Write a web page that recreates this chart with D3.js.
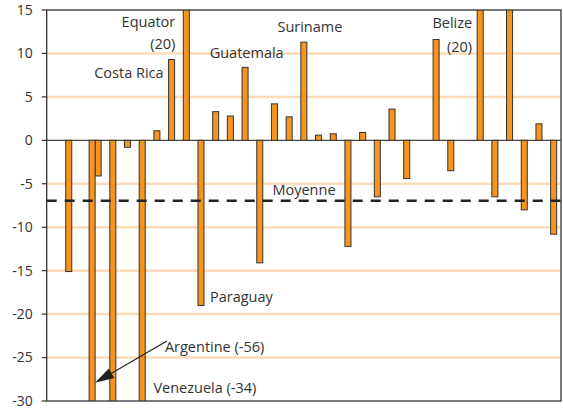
<!DOCTYPE html>
<html><head><meta charset="utf-8">
<script src="https://cdn.jsdelivr.net/npm/d3@7"></script>
<style>
html,body{margin:0;padding:0;background:#fff;}
svg{display:block;font-family:"Open Sans",sans-serif;}
</style></head>
<body><svg id="chart" width="563" height="409"></svg>
<script>
// ---- data ----
const categories = d3.range(1, 36).map(String);
const values = [0, -15.1, null, -4.1, -30.4, -0.8, -34, 1.1, 9.3, 20, -19, 3.3, 2.8, 8.4, -14.1, 4.2, 2.7, 11.3, 0.6, 0.75, -12.2, 0.9, -6.5, 3.6, -4.4, null, 11.6, -3.5, null, 20, -6.5, 17, -8.0, 1.9, -10.8];
const secondValues = [null, null, null, -56, null, null, null, null, null, null, null, null, null, null, null, null, null, null, null, null, null, null, null, null, null, null, null, null, null, null, null, null, null, null, null];
const meanValue = -6.95;
const yTicks = [15, 10, 5, 0, -5, -10, -15, -20, -25, -30];
const gridTicks = [10, 5, -5, -10, -15, -20, -25];

const svg = d3.select("#chart");
const L = 46.7, R = 561, T = 10, B = 401;
const x = d3.scaleBand().domain(categories).range([L, R]).paddingInner(0.59).paddingOuter(0.295);
const y = d3.scaleLinear().domain([-30, 15]).range([B, T]);
const bw = x.bandwidth();
const ink = "#333";

// grid
svg.append("g").selectAll("line").data(gridTicks).join("line")
  .attr("x1", L).attr("x2", R).attr("y1", d => y(d)).attr("y2", d => y(d))
  .attr("stroke", "#fcdcbc").attr("stroke-width", 2.5);

// zero line
svg.append("line").attr("x1", L).attr("x2", R).attr("y1", y(0)).attr("y2", y(0))
  .attr("stroke", "#444").attr("stroke-width", 1.2);

// clip
svg.append("clipPath").attr("id", "clip").append("rect")
  .attr("x", L).attr("y", T).attr("width", R - L).attr("height", B - T);

const gBars = svg.append("g").attr("clip-path", "url(#clip)");
const main = values.map((v, i) => ({c: categories[i], v})).filter(d => d.v !== null);
gBars.selectAll("rect.m").data(main).join("rect").attr("class", "m")
  .attr("x", d => x(d.c)).attr("width", bw)
  .attr("y", d => y(Math.max(0, d.v))).attr("height", d => Math.abs(y(d.v) - y(0)))
  .attr("fill", "#f7941e").attr("stroke", ink).attr("stroke-width", 1);
const second = secondValues.map((v, i) => ({c: categories[i], v})).filter(d => d.v !== null);
gBars.selectAll("rect.s").data(second).join("rect").attr("class", "s")
  .attr("x", d => x(d.c) - bw).attr("width", bw)
  .attr("y", d => y(Math.max(0, d.v))).attr("height", d => Math.abs(y(d.v) - y(0)))
  .attr("fill", "#f7941e").attr("stroke", ink).attr("stroke-width", 1);

// mean line
svg.append("line").attr("x1", L).attr("x2", R).attr("y1", y(meanValue)).attr("y2", y(meanValue))
  .attr("stroke", "#222").attr("stroke-width", 2.5).attr("stroke-dasharray", "10,8");

// frame
svg.append("rect").attr("x", L).attr("y", T).attr("width", R - L).attr("height", B - T)
  .attr("fill", "none").attr("stroke", ink).attr("stroke-width", 1.3);

// y axis ticks and labels
const gy = svg.append("g");
gy.selectAll("line").data(yTicks).join("line")
  .attr("x1", L - 5).attr("x2", L).attr("y1", d => y(d)).attr("y2", d => y(d))
  .attr("stroke", ink).attr("stroke-width", 1.2);
gy.selectAll("text").data(yTicks).join("text")
  .attr("x", L - 14).attr("y", d => y(d)).attr("dy", "0.35em")
  .attr("text-anchor", "end").attr("font-size", 14).attr("fill", ink)
  .text(d => d);

// annotations
const fs = 14.5;
function label(txt, xx, yy, anchor) {
  svg.append("text").attr("x", xx).attr("y", yy).attr("text-anchor", anchor || "start")
    .attr("font-size", fs).attr("fill", ink).text(txt);
}
label("Equator", x("10") - 8, y(13.1), "end");
label("(20)", x("10") - 8, y(10.5), "end");
label("Costa Rica", x("9") - 5, y(7.2), "end");
label("Guatemala", x("12") - 3, y(9.5));
label("Suriname", x("16") + 6, y(12.5));
label("Belize", x("30") - 5, y(12.9), "end");
label("(20)", x("30") - 5, y(10.2), "end");
label("Moyenne", x("16") + 1, y(-6.25));
label("Paraguay", x("11") + 12, y(-18.6));
label("Argentine (-56)", x("8") + 11, y(-24.35));
label("Venezuela (-34)", x("8") - 0.5, y(-29.1));

// arrow to Argentine bar
const tipX = x("4"), tipY = y(-27.9);
const startX = x("8") + 13, startY = y(-23.1);
const ang = Math.atan2(tipY - startY, tipX - startX);
const hl = 19, hw = 5.5;
const bx = tipX - hl * Math.cos(ang), by = tipY - hl * Math.sin(ang);
svg.append("line").attr("x1", startX).attr("y1", startY).attr("x2", bx).attr("y2", by)
  .attr("stroke", "#222").attr("stroke-width", 1.2);
svg.append("path").attr("d", d3.line()([
  [tipX, tipY],
  [bx + hw * Math.sin(ang), by - hw * Math.cos(ang)],
  [bx - hw * Math.sin(ang), by + hw * Math.cos(ang)]
]) + "Z").attr("fill", "#222");
</script></body></html>
